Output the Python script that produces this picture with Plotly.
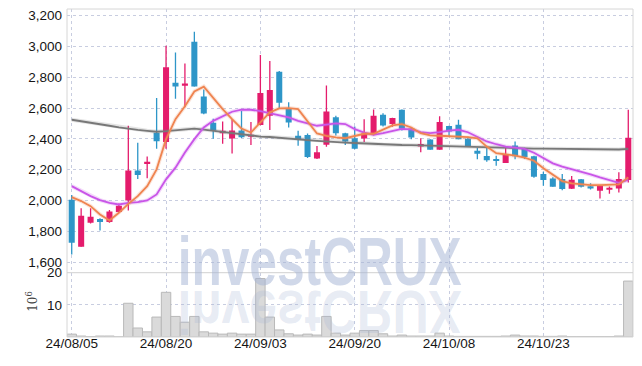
import plotly.graph_objects as go
from plotly.subplots import make_subplots

dates = ["24/08/05", "24/08/06", "24/08/07", "24/08/08", "24/08/09", "24/08/12", "24/08/13", "24/08/14",
         "24/08/16", "24/08/19", "24/08/20", "24/08/21", "24/08/22", "24/08/23", "24/08/26", "24/08/27",
         "24/08/28", "24/08/29", "24/08/30", "24/09/02", "24/09/03", "24/09/04", "24/09/05", "24/09/06",
         "24/09/09", "24/09/10", "24/09/11", "24/09/12", "24/09/13", "24/09/19", "24/09/20", "24/09/23",
         "24/09/24", "24/09/25", "24/09/26", "24/09/27", "24/09/30", "24/10/02", "24/10/04", "24/10/07",
         "24/10/08", "24/10/10", "24/10/11", "24/10/14", "24/10/15", "24/10/16", "24/10/17", "24/10/18",
         "24/10/21", "24/10/22", "24/10/23", "24/10/24", "24/10/25", "24/10/28", "24/10/29", "24/10/30",
         "24/10/31", "24/11/01", "24/11/04", "24/11/05"]

opens = [2005, 1700, 1855, 1880, 1860, 1925, 2000, 2195, 2237, 2440,
         2380, 2765, 2745, 3030, 2675, 2505, 2437, 2402, 2455, 2413,
         2490, 2550, 2835, 2593, 2420, 2425, 2272, 2361, 2541, 2437,
         2404, 2402, 2426, 2557, 2496, 2589, 2467, 2350, 2396, 2330,
         2483, 2491, 2400, 2322, 2289, 2263, 2243, 2357, 2335, 2287,
         2172, 2143, 2139, 2076, 2137, 2093, 2063, 2070, 2078, 2133]
highs = [2035, 1950, 1950, 1885, 1938, 1980, 2485, 2375, 2285, 2665,
         3005, 2960, 2890, 3095, 2720, 2530, 2513, 2528, 2583, 2510,
         2945, 2905, 2840, 2637, 2452, 2435, 2354, 2746, 2550, 2440,
         2480, 2528, 2590, 2567, 2537, 2590, 2474, 2404, 2398, 2546,
         2485, 2524, 2413, 2343, 2350, 2291, 2343, 2383, 2343, 2290,
         2187, 2150, 2172, 2159, 2139, 2111, 2098, 2091, 2183, 2589]
lows = [1650, 1700, 1850, 1805, 1855, 1920, 1935, 2140, 2145, 2335,
        2335, 2660, 2605, 2740, 2560, 2400, 2368, 2305, 2405, 2360,
        2488, 2457, 2593, 2474, 2355, 2275, 2270, 2348, 2422, 2360,
        2333, 2380, 2424, 2480, 2478, 2455, 2398, 2313, 2330, 2330,
        2417, 2398, 2350, 2267, 2252, 2226, 2243, 2267, 2270, 2148,
        2096, 2089, 2067, 2074, 2085, 2072, 2013, 2043, 2052, 2117]
closes = [1725, 1900, 1895, 1860, 1928, 1965, 2195, 2165, 2252, 2385,
          2865, 2740, 2760, 2740, 2565, 2455, 2453, 2454, 2410, 2426,
          2698, 2717, 2635, 2506, 2395, 2283, 2313, 2578, 2437, 2383,
          2335, 2435, 2550, 2487, 2535, 2465, 2409, 2367, 2330, 2509,
          2448, 2398, 2350, 2304, 2261, 2258, 2296, 2287, 2283, 2154,
          2133, 2089, 2074, 2135, 2089, 2078, 2096, 2083, 2139, 2407]

ma_short = [2022, 1996, 1963, 1909, 1870, 1920, 1978, 2028, 2093, 2202,
            2398, 2528, 2611, 2707, 2739, 2665, 2593, 2528, 2467, 2441,
            2506, 2572, 2598, 2600, 2593, 2517, 2435, 2420, 2409, 2404,
            2420, 2433, 2433, 2459, 2487, 2496, 2474, 2437, 2422, 2420,
            2417, 2415, 2411, 2404, 2350, 2307, 2300, 2291, 2278, 2258,
            2209, 2165, 2126, 2111, 2104, 2100, 2100, 2100, 2104, 2150]
ma_mid = [2093, 2061, 2028, 2002, 1985, 1974, 1985, 1989, 2000, 2039,
          2137, 2213, 2311, 2398, 2474, 2517, 2546, 2576, 2589, 2589,
          2580, 2567, 2556, 2539, 2517, 2500, 2485, 2493, 2500, 2496,
          2463, 2441, 2426, 2437, 2452, 2465, 2461, 2443, 2437, 2443,
          2454, 2459, 2443, 2415, 2383, 2365, 2350, 2343, 2335, 2310,
          2274, 2241, 2220, 2204, 2187, 2170, 2150, 2133, 2115, 2133]
ma_long = [2524, 2515, 2505, 2497, 2485, 2474, 2465, 2458, 2452, 2446,
           2450, 2455, 2462, 2467, 2460, 2452, 2446, 2440, 2430, 2420,
           2415, 2412, 2408, 2404, 2398, 2392, 2387, 2382, 2379, 2376,
           2373, 2370, 2366, 2364, 2362, 2360, 2359, 2357, 2356, 2355,
           2354, 2352, 2350, 2348, 2346, 2344, 2342, 2341, 2339, 2337,
           2336, 2335, 2334, 2333, 2333, 2332, 2332, 2331, 2331, 2335]

volumes = [0.9, 0.3, 0.1, 0.3, 0.3, 0.05, 10.5, 2.8, 1.6, 6.2,
           13.9, 6.4, 4.6, 6.4, 1.6, 1.2, 0.9, 1.2, 0.9, 0.9,
           18.2, 6.2, 2.2, 1.0, 0.6, 0.9, 0.6, 6.4, 1.2, 0.6,
           1.2, 2.0, 2.0, 1.0, 0.3, 0.6, 0.3, 0.3, 0.3, 1.2,
           0.3, 0.2, 0.2, 0.2, 0.2, 0.2, 0.3, 0.6, 0.3, 0.3,
           0.2, 0.2, 0.3, 0.1, 0.1, 0.1, 0.1, 0.1, 0.3, 17.4]

tick_dates = ["24/08/05", "24/08/20", "24/09/03", "24/09/20", "24/10/08", "24/10/23"]
price_ticks = [1600, 1800, 2000, 2200, 2400, 2600, 2800, 3000, 3200]
volume_ticks = [10, 20]

UP = "#e41c6c"
DOWN = "#2e96c8"
GRID = "#c8cde0"
FONT = "Liberation Sans"
TICKFONT = dict(family=FONT, size=13.5, color="#151515")

fig = make_subplots(rows=2, cols=1, shared_xaxes=True, vertical_spacing=0,
                    row_heights=[0.804, 0.196])

# volume
fig.add_trace(go.Bar(x=dates, y=volumes, width=1.0,
                     marker=dict(color="#dadada", line=dict(color="#b9b9b9", width=1)),
                     hoverinfo="skip"), row=2, col=1)

# wicks and bodies
for is_up, col in ((True, UP), (False, DOWN)):
    wx, wy, bx, bb, bh = [], [], [], [], []
    for d, o, h, l, c in zip(dates, opens, highs, lows, closes):
        if (c >= o) != is_up:
            continue
        wx += [d, d, None]
        wy += [l, h, None]
        bx.append(d)
        bb.append(min(o, c))
        bh.append(max(abs(c - o), 9))
    fig.add_trace(go.Scatter(x=wx, y=wy, mode="lines", line=dict(color=col, width=1.3),
                             hoverinfo="skip"), row=1, col=1)
    fig.add_trace(go.Bar(x=bx, y=bh, base=bb, width=0.64,
                         marker=dict(color=col, line=dict(color=col, width=0)),
                         hoverinfo="skip"), row=1, col=1)

# moving averages with soft glow
for vals, col, glow in ((ma_long, "#787878", "rgba(120,120,120,0.2)"),
                        (ma_mid, "#c955e8", "rgba(201,85,232,0.22)"),
                        (ma_short, "#ef8450", "rgba(239,132,80,0.22)")):
    fig.add_trace(go.Scatter(x=dates, y=vals, mode="lines", line=dict(color=glow, width=4),
                             hoverinfo="skip"), row=1, col=1)
    fig.add_trace(go.Scatter(x=dates, y=vals, mode="lines", line=dict(color=col, width=1.8),
                             hoverinfo="skip"), row=1, col=1)

xcommon = dict(type="category", categoryorder="array", categoryarray=dates,
               range=[-0.5, len(dates) - 0.5], tickmode="array", tickvals=tick_dates,
               ticktext=tick_dates, showgrid=True, gridcolor=GRID, griddash="dot",
               gridwidth=1, zeroline=False, showline=False, ticks="", automargin=False)
fig.update_xaxes(**xcommon)
fig.update_xaxes(showticklabels=False, row=1, col=1)
fig.update_xaxes(showticklabels=True, tickfont=TICKFONT, ticklabelstandoff=-4, row=2, col=1)

fig.update_yaxes(range=[1531, 3243], tickmode="array", tickvals=price_ticks,
                 tickformat=",", showgrid=True, gridcolor=GRID, griddash="dot",
                 zeroline=False, showline=False, ticks="", ticklabelstandoff=4,
                 automargin=False, tickfont=TICKFONT, row=1, col=1)
fig.update_yaxes(range=[0, 20], tickmode="array", tickvals=volume_ticks,
                 showgrid=True, gridcolor=GRID, griddash="dot", zeroline=False,
                 showline=False, ticks="", ticklabelstandoff=4, automargin=False,
                 tickfont=TICKFONT, row=2, col=1)

fig.update_layout(
    width=642, height=366,
    margin=dict(l=67, r=9, t=9, b=29, autoexpand=False),
    paper_bgcolor="white", plot_bgcolor="white",
    showlegend=False, barmode="overlay",
    shapes=[
        dict(type="rect", xref="paper", yref="paper", x0=0, x1=1, y0=0, y1=1,
             line=dict(color="#d6d6d6", width=1), layer="above"),
        dict(type="line", xref="paper", yref="paper", x0=0, x1=1, y0=0.196, y1=0.196,
             line=dict(color="#d0d0d0", width=1), layer="above"),
    ],
    annotations=[
        dict(text="<b>investCRUX</b>", xref="paper", yref="paper", x=0.446, y=0.110,
             xanchor="center", yanchor="bottom", showarrow=False,
             font=dict(family=FONT, size=68, color="rgba(165,180,212,0.52)")),
        dict(text="<b>investCRUX</b>", xref="paper", yref="paper", x=0.446, y=0.125,
             xanchor="center", yanchor="middle", showarrow=False,
             font=dict(family=FONT, size=68, color="rgba(165,180,212,0.27)")),
        dict(text="10<sup>6</sup>", xref="paper", yref="paper", x=-0.062, y=0.11,
             xanchor="center", yanchor="middle", showarrow=False, textangle=-90,
             font=dict(family="DejaVu Serif", size=12, color="#444")),
    ],
)

post = """
(function(){
  var gd = document.getElementById('{plot_id}');
  function shape(){
    var g = gd.querySelectorAll('g.annotation');
    for (var k = 0; k < g.length; k++) {
      var idx = g[k].getAttribute('data-index');
      if (idx === '0' || idx === '1') {
        var t = g[k].querySelector('text');
        if (t) {
          t.style.transformBox = 'fill-box';
          t.style.transformOrigin = '50% 50%';
          t.style.transform = (idx === '1') ? 'translate(0px, 15px) scale(0.73,-0.9)' : 'scale(0.73,1)';
        }
      }
    }
  }
  shape();
  if (gd && gd.on) { gd.on('plotly_afterplot', shape); }
})();
"""

fig.write_html("out.html", post_script=post)
